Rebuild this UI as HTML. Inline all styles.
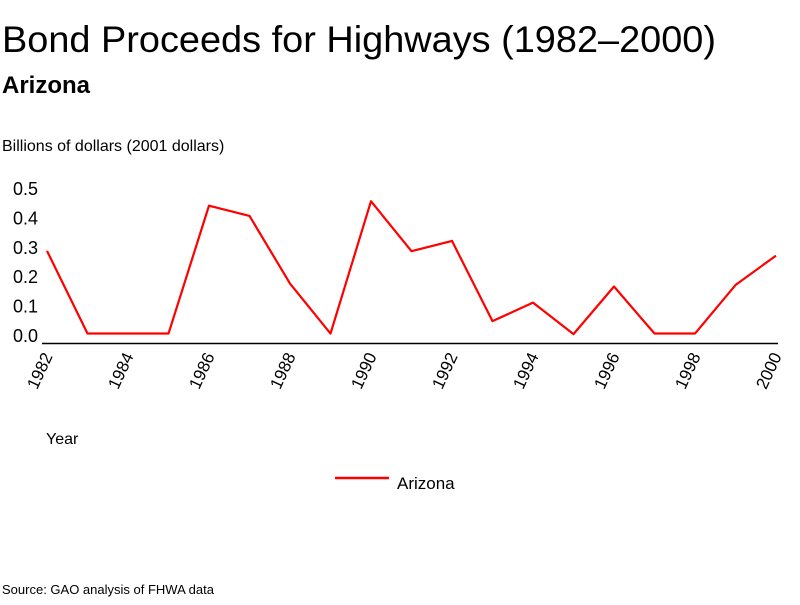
<!DOCTYPE html>
<html><head><meta charset="utf-8"><style>
body{margin:0;background:#fff;font-family:"Liberation Sans",sans-serif;}
svg text{font-family:"Liberation Sans",sans-serif;}
</style></head><body>
<svg width="800" height="600" xmlns="http://www.w3.org/2000/svg">
<text x="2" y="52" font-size="37" textLength="714" lengthAdjust="spacingAndGlyphs">Bond Proceeds for Highways (1982–2000)</text>
<text x="2" y="93" font-size="24" font-weight="bold">Arizona</text>
<text x="2" y="151" font-size="16">Billions of dollars (2001 dollars)</text>
<line x1="42" y1="343.5" x2="778" y2="343.5" stroke="#000" stroke-width="1.5"/>
<g id="yticks"></g><g id="xticks"></g>
<polyline id="series" fill="none" stroke="#ff0000" stroke-width="2.2" stroke-linejoin="round"/>
<text x="46" y="444" font-size="16">Year</text>
<line x1="335" y1="478" x2="389" y2="478" stroke="#ff0000" stroke-width="2.5"/>
<text x="397" y="489" font-size="17">Arizona</text>
<text x="2" y="594" font-size="13">Source: GAO analysis of FHWA data</text>
</svg>
<script>
const years=[1982,1983,1984,1985,1986,1987,1988,1989,1990,1991,1992,1993,1994,1995,1996,1997,1998,1999,2000];
const values=[0.286,0.005,0.005,0.005,0.44,0.405,0.175,0.005,0.455,0.285,0.32,0.047,0.11,0.003,0.165,0.005,0.005,0.17,0.27];
const yTicks=[0.0,0.1,0.2,0.3,0.4,0.5];
const xTickYears=[1982,1984,1986,1988,1990,1992,1994,1996,1998,2000];
const ns="http://www.w3.org/2000/svg";
function xs(y){return 47+(y-1982)*(776-47)/18;}
function ys(v){return 335-v*294;}
document.getElementById('series').setAttribute('points',years.map((y,i)=>xs(y)+','+ys(values[i])).join(' '));
const yt=document.getElementById('yticks');
yTicks.forEach(v=>{const t=document.createElementNS(ns,'text');
t.setAttribute('x',38);t.setAttribute('y',ys(v)+7);t.setAttribute('text-anchor','end');t.setAttribute('font-size','18');
t.textContent=v.toFixed(1);


yt.appendChild(t);});
const xt=document.getElementById('xticks');
xTickYears.forEach(y=>{const t=document.createElementNS(ns,'text');
const x=xs(y)+6,yy=356;
t.setAttribute('x',x);t.setAttribute('y',yy);t.setAttribute('text-anchor','end');t.setAttribute('font-size','17');
t.setAttribute('transform','rotate(-65 '+x+' '+yy+')');
t.textContent=y;


xt.appendChild(t);});
</script>
</body></html>
